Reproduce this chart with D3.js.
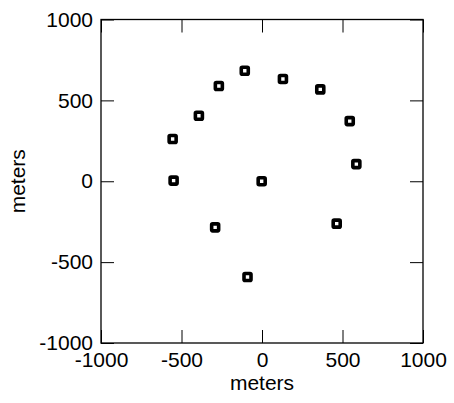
<!DOCTYPE html>
<html><head><meta charset="utf-8">
<script src="https://cdn.jsdelivr.net/npm/d3@7"></script>
<style>body{margin:0;background:#fff}svg{display:block}text{font-family:"Liberation Sans",Arial,sans-serif;fill:#000}</style>
</head><body>
<svg id="c" width="454" height="403"></svg>
<script>
const xs = [-107, 130, 362, -268, -392, -555, -549, -2, -291, 464, -90, 545, 586];
const ys = [683, 632, 568, 589, 405, 261, 4, 0, -285, -262, -592, 372, 106];
const tickVals = [-1000, -500, 0, 500, 1000];
const xLabel = "meters", yLabel = "meters";

const svg = d3.select("#c");
const L = 101, R = 423, T = 19.5, B = 343;
const x = d3.scaleLinear().domain([-1000, 1000]).range([L, R]);
const y = d3.scaleLinear().domain([-1000, 1000]).range([B, T]);
const fs = "21px";
const fmt = d => String(d);

svg.append("g").attr("transform", `translate(0,${B})`)
  .call(d3.axisBottom(x).tickValues(tickVals).tickSizeInner(-13).tickSizeOuter(0).tickPadding(9).tickFormat(fmt))
  .call(g => g.select(".domain").remove());
svg.append("g").attr("transform", `translate(${L},0)`)
  .call(d3.axisLeft(y).tickValues(tickVals).tickSizeInner(-13).tickSizeOuter(0).tickPadding(8).tickFormat(fmt))
  .call(g => g.select(".domain").remove());
svg.append("g").attr("transform", `translate(${R},0)`)
  .call(d3.axisRight(y).tickValues(tickVals).tickSizeInner(-13).tickSizeOuter(0).tickFormat(""))
  .call(g => g.select(".domain").remove());
svg.append("g").attr("transform", `translate(0,${T})`)
  .call(d3.axisTop(x).tickValues(tickVals).tickSizeInner(-13).tickSizeOuter(0).tickFormat(""))
  .call(g => g.select(".domain").remove());
svg.selectAll(".tick text").attr("font-size", fs).attr("font-family", "Liberation Sans, Arial, sans-serif").attr("fill", "#000");
svg.selectAll(".tick line").attr("stroke", "#000");

svg.append("rect").attr("x", L).attr("y", T).attr("width", R - L).attr("height", B - T)
  .attr("fill", "none").attr("stroke", "#000").attr("stroke-width", 1.3);

svg.append("g").selectAll("rect").data(xs.map((v, i) => [v, ys[i]])).join("rect")
  .attr("x", d => x(d[0]) - 3.5).attr("y", d => y(d[1]) - 3.5)
  .attr("width", 7).attr("height", 7).attr("rx", 1)
  .attr("fill", "#fff").attr("stroke", "#000").attr("stroke-width", 3.6);

svg.append("text").attr("x", (L + R) / 2).attr("y", 390).attr("text-anchor", "middle")
  .attr("font-size", fs).attr("fill", "#000").text(xLabel);
svg.append("text").attr("transform", `translate(25,${(T + B) / 2}) rotate(-90)`)
  .attr("text-anchor", "middle").attr("font-size", fs).attr("fill", "#000").text(yLabel);
</script>
</body></html>
